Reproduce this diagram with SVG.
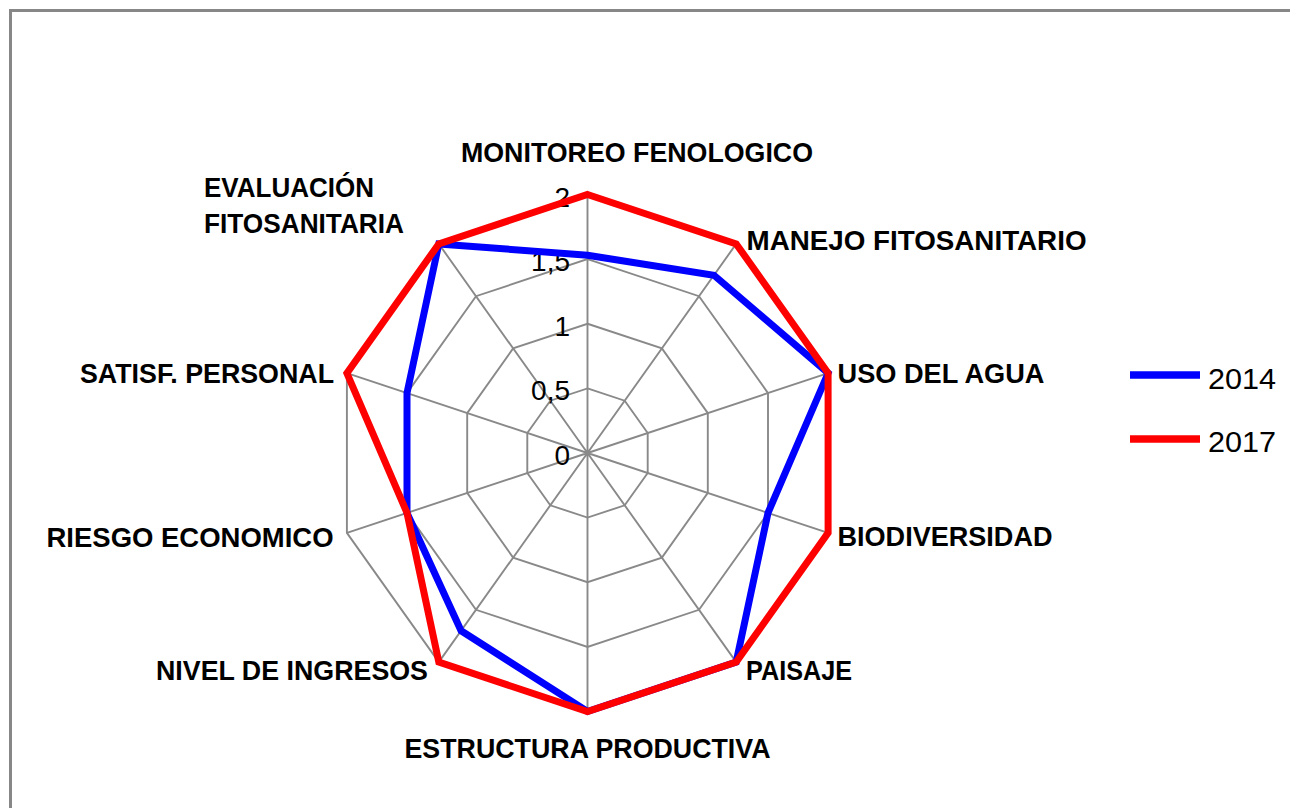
<svg xmlns="http://www.w3.org/2000/svg" width="1290" height="808" viewBox="0 0 1290 808">
<style>
.frame{fill:none;stroke:#878787;stroke-width:3}
.grid{fill:none;stroke:#898989;stroke-width:1.9}
.s14{fill:none;stroke:#0000ff;stroke-width:7;stroke-linejoin:miter}
.s17{fill:none;stroke:#ff0000;stroke-width:7;stroke-linejoin:miter}
.cat{font-family:"Liberation Sans",Arial,sans-serif;font-weight:bold;font-size:28px;fill:#000}
.tick{font-family:"Liberation Sans",Arial,sans-serif;font-size:28px;fill:#000;text-anchor:end}
.leg{font-family:"Liberation Sans",Arial,sans-serif;font-size:29px;fill:#000}
</style>
<rect width="1290" height="808" fill="#fff"/>
<path class="frame" d="M10.5,808 V10.5 H1290"/>
<g id="grid">
<polygon class="grid" points="587.5,194.5 736.2,243.9 828.1,373.1 828.1,532.9 736.2,662.1 587.5,711.5 438.8,662.1 346.9,532.9 346.9,373.1 438.8,243.9"/>
<polygon class="grid" points="587.5,259.1 699,296.2 768,393.1 768,512.9 699,609.8 587.5,646.9 476,609.8 407,512.9 407,393.1 476,296.2"/>
<polygon class="grid" points="587.5,323.75 661.9,348.4 707.8,413.1 707.8,492.9 661.9,557.6 587.5,582.25 513.1,557.6 467.2,492.9 467.2,413.1 513.1,348.4"/>
<polygon class="grid" points="587.5,388.4 624.7,400.7 647.7,433 647.7,473 624.7,505.3 587.5,517.6 550.3,505.3 527.3,473 527.3,433 550.3,400.7"/>
<path class="grid" d="M587.5,453 L587.5,194.5 M587.5,453 L736.2,243.9 M587.5,453 L828.1,373.1 M587.5,453 L828.1,532.9 M587.5,453 L736.2,662.1 M587.5,453 L587.5,711.5 M587.5,453 L438.8,662.1 M587.5,453 L346.9,532.9 M587.5,453 L346.9,373.1 M587.5,453 L438.8,243.9"/>
</g>
<g id="ticks">
<text class="tick" x="570" y="465">0</text>
<text class="tick" x="570" y="400.4">0,5</text>
<text class="tick" x="570" y="335.8">1</text>
<text class="tick" x="570" y="271.1">1,5</text>
<text class="tick" x="570" y="206.5">2</text>
</g>
<g id="connectors">
<polygon id="series-2014" class="s14" points="587.5,255.2 713.9,275.2 828.1,373.1 768,512.9 736.2,662.1 587.5,711.5 461.1,630.8 407,512.9 407,393.1 438.8,243.9"/>
<polygon id="series-2017" class="s17" points="587.5,194.5 736.2,243.9 828.1,373.1 828.1,532.9 736.2,662.1 587.5,711.5 438.8,662.1 407,512.9 346.9,373.1 438.8,243.9"/>
</g>
<g id="monitoreo"><text class="cat" x="461" y="161.5" textLength="352" lengthAdjust="spacingAndGlyphs">MONITOREO FENOLOGICO</text></g>
<g id="manejo"><text class="cat" x="746.5" y="250" textLength="340" lengthAdjust="spacingAndGlyphs">MANEJO FITOSANITARIO</text></g>
<g id="uso-agua"><text class="cat" x="837.5" y="383" textLength="207" lengthAdjust="spacingAndGlyphs">USO DEL AGUA</text></g>
<g id="biodiversidad"><text class="cat" x="837.5" y="545.5" textLength="215" lengthAdjust="spacingAndGlyphs">BIODIVERSIDAD</text></g>
<g id="paisaje"><text class="cat" x="746" y="679.5" textLength="106" lengthAdjust="spacingAndGlyphs">PAISAJE</text></g>
<g id="estructura"><text class="cat" x="404.5" y="758.3" textLength="366" lengthAdjust="spacingAndGlyphs">ESTRUCTURA PRODUCTIVA</text></g>
<g id="nivel-ingresos"><text class="cat" x="156" y="679.5" textLength="272" lengthAdjust="spacingAndGlyphs">NIVEL DE INGRESOS</text></g>
<g id="riesgo"><text class="cat" x="46.5" y="546.5" textLength="287" lengthAdjust="spacingAndGlyphs">RIESGO ECONOMICO</text></g>
<g id="satisf"><text class="cat" x="80" y="383.3" textLength="254" lengthAdjust="spacingAndGlyphs">SATISF. PERSONAL</text></g>
<g id="evaluacion"><text class="cat" x="204" y="196.7" textLength="170" lengthAdjust="spacingAndGlyphs">EVALUACIÓN</text><text class="cat" x="204" y="233" textLength="200" lengthAdjust="spacingAndGlyphs">FITOSANITARIA</text></g>
<g id="legend">
<line x1="1130" y1="375" x2="1200" y2="375" stroke="#0000ff" stroke-width="7.5"/>
<text class="leg" x="1208" y="389" textLength="68" lengthAdjust="spacingAndGlyphs">2014</text>
<line x1="1130" y1="439" x2="1200" y2="439" stroke="#ff0000" stroke-width="7.5"/>
<text class="leg" x="1208" y="451.5" textLength="68" lengthAdjust="spacingAndGlyphs">2017</text>
</g>
</svg>
